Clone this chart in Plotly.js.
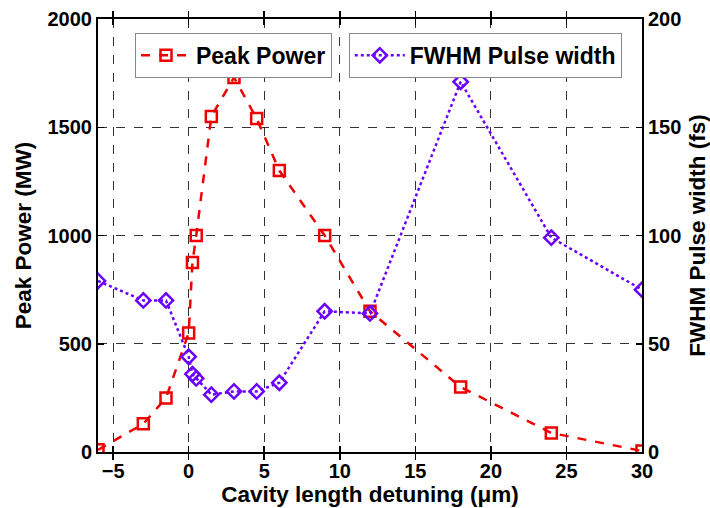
<!DOCTYPE html>
<html><head><meta charset="utf-8">
<script src="https://cdn.plot.ly/plotly-3.0.1.min.js"></script>
<style>html,body{margin:0;padding:0;background:#fff}#c{width:710px;height:508px}</style>
</head><body><div id="c"></div>
<script>
const detuning = [-6, -3, -1.5, 0, 0.25, 0.5, 1.5, 3, 4.5, 6, 9, 12, 18, 24, 30];
const peakPower = [10, 130, 250, 550, 875, 1000, 1550, 1730, 1540, 1300, 1000, 650, 300, 88, 5];
const pulseWidth = [79, 70, 70, 44, 36, 34, 26.5, 28, 28, 32, 65, 64, 171, 99, 75];
const xTicks = [-5, 0, 5, 10, 15, 20, 25, 30];
const yTicks = [0, 500, 1000, 1500, 2000];
const y2Ticks = [0, 50, 100, 150, 200];

const F = 'Liberation Sans, Arial, sans-serif';
const RED = '#ee0000', BLUE = '#6a00ff';

const traces = [
  {x: detuning, y: peakPower, name: 'Peak Power', mode: 'lines+markers', yaxis: 'y', legend: 'legend',
   line: {color: RED, width: 2.5, dash: 'dash'},
   marker: {symbol: 'square-open', size: 11, color: RED, line: {width: 2.5, color: RED}}},
  {x: detuning, y: pulseWidth, name: 'FWHM Pulse width', mode: 'lines+markers', yaxis: 'y2', legend: 'legend2',
   line: {color: BLUE, width: 2.5, dash: 'dot'},
   marker: {symbol: 'diamond-open', size: 11, color: BLUE, line: {width: 2.5, color: BLUE}}}
];

const axisCommon = {
  showline: true, linecolor: '#000', linewidth: 2,
  ticks: 'inside', ticklen: 6, tickwidth: 1.5, tickcolor: '#000',
  tickfont: {family: F, size: 20, color: '#000', weight: 'bold'},
  zeroline: false
};

const layout = {
  width: 710, height: 508,
  margin: {l: 98, r: 68, t: 19, b: 56},
  paper_bgcolor: '#fff', plot_bgcolor: '#fff',
  font: {family: F, color: '#000'},
  showlegend: true,
  xaxis: Object.assign({}, axisCommon, {
    range: [-6, 30], tickvals: xTicks, mirror: 'allticks',
    showgrid: true, gridcolor: '#333', griddash: 'dash', gridwidth: 1,
    title: {text: 'Cavity length detuning (μm)', font: {family: F, size: 22.5, weight: 'bold'}, standoff: 2}
  }),
  yaxis: Object.assign({}, axisCommon, {
    range: [0, 2000], tickvals: yTicks, mirror: true,
    showgrid: true, gridcolor: '#333', griddash: 'dash', gridwidth: 1,
    title: {text: 'Peak Power (MW)', font: {family: F, size: 22.5, weight: 'bold'}, standoff: 10}
  }),
  yaxis2: Object.assign({}, axisCommon, {
    range: [0, 200], tickvals: y2Ticks, overlaying: 'y', side: 'right', showgrid: false,
    title: {text: 'FWHM Pulse width (fs)', font: {family: F, size: 22.5, weight: 'bold'}, standoff: 12}
  }),
  legend: {x: 0.068, y: 0.968, xanchor: 'left', yanchor: 'top', bgcolor: '#fff',
    bordercolor: '#888', borderwidth: 1, itemwidth: 50,
    font: {family: F, size: 23, weight: 'bold', color: '#000'}},
  legend2: {x: 0.461, y: 0.968, xanchor: 'left', yanchor: 'top', bgcolor: '#fff',
    bordercolor: '#888', borderwidth: 1, itemwidth: 50,
    font: {family: F, size: 23, weight: 'bold', color: '#000'}}
};

Plotly.newPlot('c', traces, layout, {displayModeBar: false, staticPlot: true});
</script></body></html>
